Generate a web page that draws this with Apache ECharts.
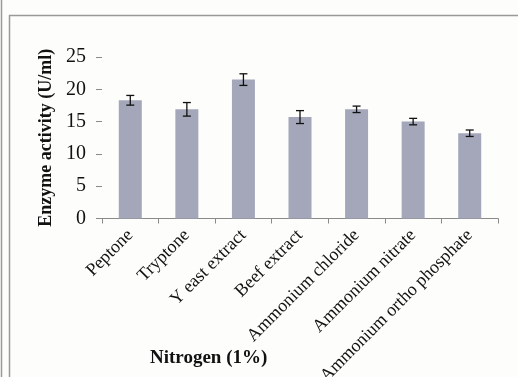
<!DOCTYPE html>
<html>
<head>
<meta charset="utf-8">
<script src="https://cdn.jsdelivr.net/npm/echarts@6/dist/echarts.min.js"></script>
<style>
  html, body { margin: 0; padding: 0; background: #fdfdfb; }
  #chart { width: 518px; height: 377px; }
</style>
</head>
<body>
<div id="chart"></div>
<script>
// Nitrogen sources tested at 1%
const categories = ['Peptone', 'Tryptone', 'Y east extract', 'Beef extract',
  'Ammonium chloride', 'Ammonium nitrate', 'Ammonium ortho phosphate'];
// Mean enzyme activity (U/ml)
const activity = [18.3, 16.9, 21.5, 15.7, 16.9, 15.0, 13.2];
// Standard error of each mean
const errors = [0.75, 1.05, 0.9, 1.0, 0.5, 0.5, 0.5];
const yTicks = { min: 0, max: 25, interval: 5 };

const serif = '"Liberation Serif", "Times New Roman", serif';
const chart = echarts.init(document.getElementById('chart'));

const errorData = activity.map((v, i) => [i, v - errors[i], v + errors[i]]);

chart.setOption({
  backgroundColor: '#fdfdfb',
  animation: false,
  grid: { left: 102, right: 20, top: 57, bottom: 158.5, outerBoundsMode: 'none', containLabel: false },
  title: {
    text: 'Nitrogen (1%)',
    left: 145, top: 344,
    textStyle: { fontFamily: serif, fontWeight: 'bold', fontSize: 19, color: '#111' }
  },
  graphic: [
    { type: 'line', shape: { x1: 1.5, y1: 0, x2: 1.5, y2: 377 }, style: { stroke: '#9a9a9a', lineWidth: 1.5 } },
    { type: 'line', shape: { x1: 9.5, y1: 15, x2: 9.5, y2: 377 }, style: { stroke: '#9a9a9a', lineWidth: 1.5 } },
    { type: 'line', shape: { x1: 9, y1: 15.5, x2: 518, y2: 15.5 }, style: { stroke: '#9a9a9a', lineWidth: 1.5 } }
  ],
  xAxis: {
    type: 'category',
    data: categories,
    axisLine: { show: true, lineStyle: { color: '#8a8a8a', width: 1 } },
    axisTick: { show: true, alignWithLabel: false, length: 5, lineStyle: { color: '#8a8a8a' } },
    axisLabel: {
      rotate: 45, interval: 0, margin: 14,
      fontFamily: serif, fontSize: 18, color: '#111'
    }
  },
  yAxis: {
    type: 'value',
    min: yTicks.min, max: yTicks.max, interval: yTicks.interval,
    name: 'Enzyme activity (U/ml)',
    nameLocation: 'middle',
    nameGap: 44,
    nameTextStyle: { fontFamily: serif, fontWeight: 'bold', fontSize: 18, color: '#111' },
    axisLine: { show: false },
    axisTick: { show: true, length: 6, lineStyle: { color: '#8a8a8a' } },
    splitLine: { show: false },
    axisLabel: { fontFamily: serif, fontSize: 20, color: '#111', margin: 16 }
  },
  series: [
    {
      type: 'bar',
      data: activity,
      barWidth: 23,
      itemStyle: { color: '#a3a7b9' }
    },
    {
      type: 'custom',
      data: errorData,
      z: 10,
      renderItem: function (params, api) {
        const x = api.value(0);
        const lo = api.coord([x, api.value(1)]);
        const hi = api.coord([x, api.value(2)]);
        const hw = 4;
        const st = { stroke: '#111', lineWidth: 1.3 };
        return {
          type: 'group',
          children: [
            { type: 'line', shape: { x1: lo[0], y1: lo[1], x2: hi[0], y2: hi[1] }, style: st },
            { type: 'line', shape: { x1: lo[0] - hw, y1: lo[1], x2: lo[0] + hw, y2: lo[1] }, style: st },
            { type: 'line', shape: { x1: hi[0] - hw, y1: hi[1], x2: hi[0] + hw, y2: hi[1] }, style: st }
          ]
        };
      }
    }
  ]
});
</script>
</body>
</html>
